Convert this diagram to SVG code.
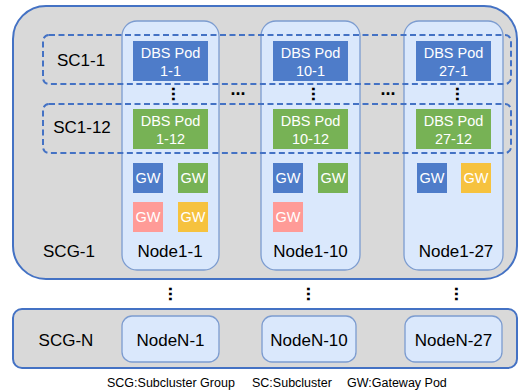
<svg xmlns="http://www.w3.org/2000/svg" width="519" height="391" viewBox="0 0 519 391">
<style>
.scg{fill:#D9D9D9;stroke:#4472C4;stroke-width:2}
.node{fill:#DAE8FC;stroke:#7C9CD0;stroke-width:1.3}
.sc{fill:none;stroke:#4472C4;stroke-width:2;stroke-dasharray:6 3.5}
.blue{fill:#4E7CC9}
.green{fill:#77B255}
.pink{fill:#FF9B97}
.yellow{fill:#F6C23E}
text{font-family:"Liberation Sans",Arial,sans-serif}
.lbl{font-size:17px;fill:#000;text-anchor:middle}
.pod{font-size:14.5px;fill:#fff;text-anchor:middle}
.gw{font-size:14.5px;fill:#fff;text-anchor:middle}
.dots{font-size:18px;font-weight:bold;fill:#000}
.foot{font-size:12.5px;fill:#000}
</style>
<g id="SCG-1">
<rect class="scg" x="13" y="6" width="504" height="273" rx="33"/>
<text class="lbl" x="69" y="257">SCG-1</text>
</g>
<g id="Node1-1">
<rect class="node" x="122" y="21" width="97" height="249" rx="15"/>
<rect class="blue" x="133" y="41" width="75" height="40"/>
<text class="pod" x="170.5" y="57.5">DBS Pod</text>
<text class="pod" x="170.5" y="75.5">1-1</text>
<rect class="green" x="133" y="109" width="75" height="40"/>
<text class="pod" x="170.5" y="125.5">DBS Pod</text>
<text class="pod" x="170.5" y="143.5">1-12</text>
<rect class="blue" x="133" y="163" width="30" height="30"/>
<text class="gw" x="148" y="183">GW</text>
<rect class="green" x="178" y="163" width="30" height="30"/>
<text class="gw" x="193" y="183">GW</text>
<rect class="pink" x="133" y="202" width="30" height="30"/>
<text class="gw" x="148" y="222">GW</text>
<rect class="yellow" x="178" y="202" width="30" height="30"/>
<text class="gw" x="193" y="222">GW</text>
<text class="lbl" x="170" y="257">Node1-1</text>
</g>
<g id="Node1-10">
<rect class="node" x="261" y="21" width="99" height="249" rx="15"/>
<rect class="blue" x="273" y="41" width="75" height="40"/>
<text class="pod" x="310.5" y="57.5">DBS Pod</text>
<text class="pod" x="310.5" y="75.5">10-1</text>
<rect class="green" x="273" y="109" width="75" height="40"/>
<text class="pod" x="310.5" y="125.5">DBS Pod</text>
<text class="pod" x="310.5" y="143.5">10-12</text>
<rect class="blue" x="273" y="163" width="30" height="30"/>
<text class="gw" x="288" y="183">GW</text>
<rect class="green" x="318" y="163" width="30" height="30"/>
<text class="gw" x="333" y="183">GW</text>
<rect class="pink" x="273" y="202" width="30" height="30"/>
<text class="gw" x="288" y="222">GW</text>
<text class="lbl" x="310.5" y="257">Node1-10</text>
</g>
<g id="Node1-27">
<rect class="node" x="404" y="21" width="99" height="249" rx="15"/>
<rect class="blue" x="416" y="41" width="75" height="40"/>
<text class="pod" x="453.5" y="57.5">DBS Pod</text>
<text class="pod" x="453.5" y="75.5">27-1</text>
<rect class="green" x="416" y="109" width="75" height="40"/>
<text class="pod" x="453.5" y="125.5">DBS Pod</text>
<text class="pod" x="453.5" y="143.5">27-12</text>
<rect class="blue" x="417" y="163" width="30" height="30"/>
<text class="gw" x="432" y="183">GW</text>
<rect class="yellow" x="461" y="163" width="30" height="30"/>
<text class="gw" x="476" y="183">GW</text>
<text class="lbl" x="456" y="257">Node1-27</text>
</g>
<g id="SC1-1">
<rect class="sc" x="43" y="35" width="468" height="49" rx="6"/>
<text class="lbl" x="81" y="66">SC1-1</text>
</g>
<g id="SC1-12">
<rect class="sc" x="43" y="104" width="468" height="49" rx="6"/>
<text class="lbl" x="82" y="133">SC1-12</text>
</g>
<g id="ellipses">
<text class="dots" transform="translate(171.7,86.5) rotate(90)" x="0" y="0">...</text>
<text class="dots" transform="translate(311.7,86.5) rotate(90)" x="0" y="0">...</text>
<text class="dots" transform="translate(455.7,86.5) rotate(90)" x="0" y="0">...</text>
<text class="dots" x="230.5" y="95.3">...</text>
<text class="dots" x="380.5" y="95.3">...</text>
<text class="dots" transform="translate(168.7,286.5) rotate(90)" x="0" y="0">...</text>
<text class="dots" transform="translate(306.7,286.5) rotate(90)" x="0" y="0">...</text>
<text class="dots" transform="translate(454.7,286.5) rotate(90)" x="0" y="0">...</text>
</g>
<g id="SCG-N">
<rect class="scg" x="13" y="309" width="504" height="59" rx="9"/>
<text class="lbl" x="66" y="345.5">SCG-N</text>
</g>
<g id="NodeN-1">
<rect class="node" x="122" y="316" width="97" height="46" rx="10"/>
<text class="lbl" x="170.5" y="345.5">NodeN-1</text>
</g>
<g id="NodeN-10">
<rect class="node" x="262" y="316" width="94" height="46" rx="10"/>
<text class="lbl" x="309" y="345.5">NodeN-10</text>
</g>
<g id="NodeN-27">
<rect class="node" x="405" y="316" width="97" height="46" rx="10"/>
<text class="lbl" x="453.5" y="345.5">NodeN-27</text>
</g>
<g id="connectors"></g>
<g id="legend">
<text class="foot" x="107" y="387">SCG:Subcluster Group</text>
<text class="foot" x="252" y="387">SC:Subcluster</text>
<text class="foot" x="347" y="387">GW:Gateway Pod</text>
</g>
</svg>
